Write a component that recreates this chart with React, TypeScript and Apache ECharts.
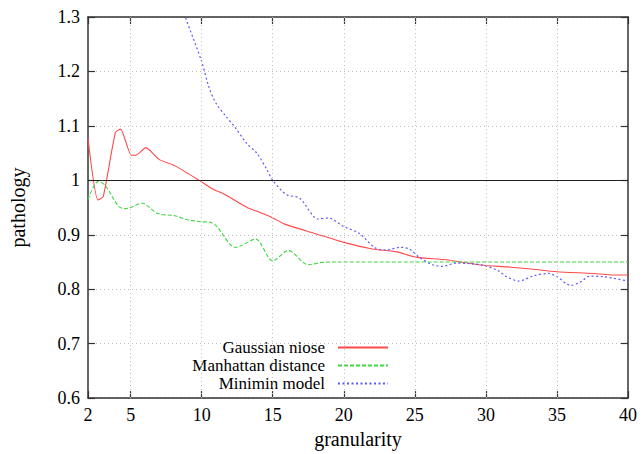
import React, { useEffect, useRef } from "react";
import * as echarts from "echarts";

const FONT = "'Liberation Serif', 'Times New Roman', serif";

const xTickValues = [2, 5, 10, 15, 20, 25, 30, 35, 40];
const xGridValues = [5, 10, 15, 20, 25, 30, 35];
const seriesNames = ["Gaussian niose", "Manhattan distance", "Minimin model"];

const gaussX = [2.0, 2.7, 3.07, 3.93, 4.29, 5.05, 5.36, 6.07, 7.02, 8.1, 9.88, 10.83, 11.5, 13.2, 13.9, 15.0, 15.8, 17.26, 20.0, 22.0, 23.67, 25.05, 27.2, 29.83, 31.5, 33.2, 35.0, 37.56, 39.0, 40.0];
const gaussY = [1.077, 0.964, 0.970, 1.088, 1.094, 1.046, 1.046, 1.060, 1.038, 1.027, 0.999, 0.983, 0.976, 0.950, 0.943, 0.931, 0.920, 0.908, 0.886, 0.874, 0.869, 0.859, 0.854, 0.844, 0.841, 0.837, 0.832, 0.829, 0.826, 0.826];

const manhX = [2.0, 2.72, 3.2, 4.16, 4.64, 5.84, 6.19, 6.9, 8.1, 8.93, 9.9, 10.6, 11.07, 12.35, 12.7, 13.8, 15.0, 16.1, 17.5, 18.4, 19.5, 40.0];
const manhY = [0.965, 0.998, 0.991, 0.952, 0.948, 0.958, 0.953, 0.939, 0.935, 0.928, 0.924, 0.923, 0.915, 0.877, 0.879, 0.892, 0.852, 0.871, 0.845, 0.849, 0.85, 0.85];

const miniX = [8.5, 8.85, 10.0, 10.5, 11.0, 11.72, 12.3, 13.16, 13.88, 14.6, 15.0, 15.95, 16.9, 18.2, 18.9, 20.0, 21.07, 22.2, 23.0, 24.0, 24.6, 25.3, 26.24, 26.96, 27.9, 28.86, 29.8, 30.8, 31.46, 32.3, 33.4, 34.4, 35.0, 35.98, 36.7, 37.3, 38.3, 39.0, 40.0];
const miniY = [1.33, 1.30, 1.218, 1.172, 1.142, 1.117, 1.099, 1.068, 1.05, 1.019, 1.0, 0.974, 0.967, 0.929, 0.931, 0.915, 0.903, 0.876, 0.872, 0.877, 0.874, 0.859, 0.845, 0.842, 0.848, 0.847, 0.844, 0.835, 0.823, 0.815, 0.825, 0.829, 0.823, 0.807, 0.814, 0.824, 0.823, 0.820, 0.815];

const zip = (xs: number[], ys: number[]) => xs.map((x, i) => [x, ys[i]]);

export default function App() {
  const ref = useRef<HTMLDivElement>(null);
  useEffect(() => {
    if (!ref.current) return;
    const chart = echarts.init(ref.current, null, { renderer: "svg" });
    const axisLine = { show: true, lineStyle: { color: "#333", width: 1.5 } };
    const tick = { show: true, inside: true, length: 7, lineStyle: { color: "#333", width: 1.2 } };
    chart.setOption({
      animation: false,
      backgroundColor: "#fff",
      grid: { left: 88, right: 16, top: 17, bottom: 55, containLabel: false },
      legend: {
        data: seriesNames,
        orient: "vertical",
        right: 250,
        top: 334,
        align: "right",
        itemWidth: 50,
        itemHeight: 10,
        itemGap: 1,
        itemStyle: { opacity: 0 },
        textStyle: { fontFamily: FONT, fontSize: 17, color: "#000", padding: [0, 8, 0, 0] },
      },
      xAxis: [
        {
          type: "value",
          min: 2,
          max: 40,
          position: "bottom",
          name: "granularity",
          nameLocation: "middle",
          nameGap: 30,
          nameTextStyle: { fontFamily: FONT, fontSize: 20, color: "#000" },
          axisLine,
          axisTick: { ...tick, customValues: xTickValues },
          axisLabel: { customValues: xTickValues, fontFamily: FONT, fontSize: 18, color: "#000", margin: 8 },
          splitLine: { show: false },
        },
        {
          type: "value",
          min: 2,
          max: 40,
          position: "top",
          axisLine,
          axisTick: { ...tick, customValues: xTickValues },
          axisLabel: { show: false },
          splitLine: { show: false },
        },
      ],
      yAxis: [
        {
          type: "value",
          min: 0.6,
          max: 1.3,
          interval: 0.1,
          position: "left",
          name: "pathology",
          nameLocation: "middle",
          nameGap: 60,
          nameTextStyle: { fontFamily: FONT, fontSize: 20, color: "#000" },
          axisLine,
          axisTick: tick,
          axisLabel: { fontFamily: FONT, fontSize: 18, color: "#000", margin: 8, formatter: (v: number) => String(Math.round(v * 10) / 10) },
          splitLine: { show: true, lineStyle: { color: "#bbb", type: [1, 3], width: 1 } },
        },
        {
          type: "value",
          min: 0.6,
          max: 1.3,
          interval: 0.1,
          position: "right",
          axisLine,
          axisTick: tick,
          axisLabel: { show: false },
          splitLine: { show: false },
        },
      ],
      series: [
        {
          name: "grid",
          type: "line",
          data: [],
          z: 1,
          markLine: {
            silent: true,
            symbol: ["none", "none"],
            label: { show: false },
            lineStyle: { color: "#bbb", type: [1, 3], width: 1 },
            data: [
              ...xGridValues.map((v) => ({ xAxis: v })),
              { yAxis: 1, lineStyle: { color: "#222", type: "solid", width: 1.2 } },
            ],
          },
        },
        {
          name: seriesNames[0],
          type: "line",
          data: zip(gaussX, gaussY),
          symbol: "none",
          smooth: 0.2,
          z: 3,
          lineStyle: { color: "#ff4a4a", width: 1.1, type: "solid" },
          itemStyle: { color: "#ff4a4a" },
        },
        {
          name: seriesNames[1],
          type: "line",
          data: zip(manhX, manhY),
          symbol: "none",
          smooth: 0.3,
          z: 3,
          lineStyle: { color: "#3ed63e", width: 1.1, type: [4, 2] },
          itemStyle: { color: "#3ed63e" },
        },
        {
          name: seriesNames[2],
          type: "line",
          data: zip(miniX, miniY),
          symbol: "none",
          smooth: 0.3,
          z: 3,
          clip: true,
          lineStyle: { color: "#5a5aff", width: 1.2, type: [2, 2.5] },
          itemStyle: { color: "#5a5aff" },
        },
      ],
    });
    return () => chart.dispose();
  }, []);
  return <div ref={ref} style={{ position: "fixed", left: 0, top: 0, width: 644, height: 454 }} />;
}
